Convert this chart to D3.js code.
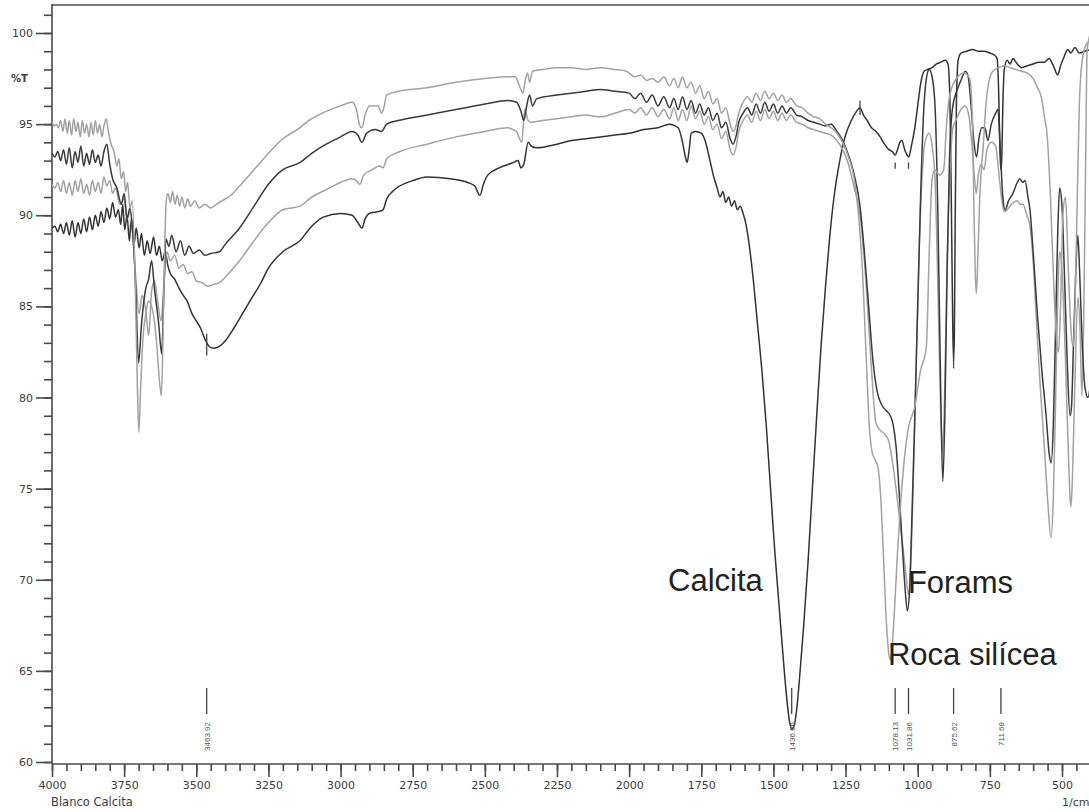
<!DOCTYPE html>
<html>
<head>
<meta charset="utf-8">
<script src="https://cdn.jsdelivr.net/npm/d3@7"></script>
<style>
body { margin: 0; background: #fff; }
text { font-family: "DejaVu Sans", Verdana, sans-serif; }
</style>
</head>
<body>
<div id="canvas"></div>
<script>
// wavenumber (1/cm), %T
const traceA = [[4000,95.1],[3992,94.9],[3985,95.0],[3978,94.8],[3970,95.2],[3962,94.6],[3955,95.3],[3947,94.5],[3940,95.2],[3932,94.4],[3925,95.3],[3917,94.6],[3910,95.1],[3902,94.3],[3895,95.2],[3887,94.5],[3880,95.0],[3872,94.3],[3865,95.1],[3857,94.4],[3850,95.2],[3842,94.5],[3835,95.0],[3827,94.3],[3820,94.9],[3812,95.3],[3805,94.6],[3795,93.9],[3785,93.5],[3775,92.7],[3768,93.1],[3760,92.0],[3752,92.4],[3745,91.3],[3738,91.8],[3730,90.4],[3722,90.8],[3712,86.5],[3704,80.5],[3699,78.1],[3693,80.5],[3685,83.2],[3675,84.6],[3665,85.3],[3655,85.0],[3645,84.2],[3635,82.5],[3627,80.8],[3621,80.1],[3615,83.5],[3609,88.5],[3604,90.8],[3598,91.2],[3590,90.7],[3582,91.3],[3574,90.6],[3566,91.1],[3558,90.5],[3550,91.0],[3540,90.4],[3530,90.9],[3520,90.5],[3505,90.8],[3490,90.4],[3470,90.6],[3450,90.4],[3430,90.6],[3410,90.8],[3380,91.1],[3350,91.6],[3300,92.5],[3250,93.4],[3200,94.2],[3150,94.7],[3100,95.3],[3050,95.7],[3000,96.0],[2960,96.2],[2945,95.8],[2933,94.9],[2926,94.8],[2915,95.5],[2900,96.0],[2870,96.0],[2858,95.6],[2850,95.9],[2840,96.6],[2800,96.8],[2700,97.0],[2600,97.3],[2500,97.5],[2420,97.6],[2395,97.6],[2385,97.3],[2375,96.9],[2368,96.7],[2360,97.4],[2352,97.8],[2345,97.3],[2335,97.9],[2300,98.0],[2250,98.1],[2200,98.1],[2150,98.0],[2100,98.1],[2050,98.0],[2010,97.9],[1980,97.6],[1960,97.7],[1940,97.4],[1920,97.5],[1900,97.3],[1880,97.6],[1860,97.1],[1845,97.5],[1830,97.0],[1815,97.6],[1800,97.0],[1785,97.3],[1770,96.7],[1755,97.1],[1740,96.4],[1725,96.8],[1710,96.1],[1695,96.4],[1680,95.6],[1665,95.9],[1650,95.0],[1640,94.6],[1630,94.9],[1620,95.6],[1605,96.2],[1590,96.5],[1575,96.2],[1560,96.7],[1545,96.3],[1530,96.8],[1515,96.4],[1500,96.7],[1485,96.3],[1470,96.6],[1455,96.2],[1440,96.4],[1420,96.0],[1400,95.9],[1380,95.6],[1360,95.4],[1340,95.3],[1320,95.0],[1300,94.8],[1280,94.5],[1260,94.0],[1240,93.2],[1220,92.0],[1205,90.0],[1190,86.5],[1178,82.0],[1168,78.5],[1158,77.0],[1148,76.6],[1138,76.2],[1128,74.5],[1118,71.0],[1108,67.5],[1100,65.9],[1095,65.6],[1090,66.0],[1080,68.5],[1070,71.5],[1060,74.0],[1050,76.0],[1040,77.5],[1030,78.5],[1020,79.0],[1010,79.5],[1000,80.5],[990,81.5],[980,82.0],[970,82.8],[960,88.0],[950,92.0],[940,92.5],[925,92.2],[910,92.5],[900,95.0],[890,96.5],[870,97.4],[840,97.8],[820,97.5],[810,95.0],[805,90.0],[800,86.5],[797,85.7],[793,87.0],[785,91.0],[779,92.6],[772,94.0],[765,95.8],[755,97.2],[740,97.9],[720,98.1],[700,98.2],[680,98.1],[660,98.0],[640,97.9],[620,97.8],[600,97.5],[585,97.0],[572,96.5],[560,95.3],[552,94.5],[540,91.0],[528,86.0],[518,83.0],[512,82.5],[505,85.0],[497,90.0],[488,91.0],[478,87.0],[468,83.5],[461,82.8],[455,85.0],[447,91.0],[440,96.0],[430,98.5],[415,99.4],[400,99.6]];

const traceB = [[4000,93.4],[3990,93.2],[3980,93.5],[3970,93.0],[3960,93.6],[3950,92.8],[3940,93.7],[3930,92.6],[3920,93.5],[3910,92.9],[3900,93.8],[3890,92.7],[3880,93.4],[3870,92.8],[3860,93.6],[3850,92.9],[3840,93.3],[3830,92.7],[3820,93.5],[3810,93.9],[3800,92.8],[3790,92.0],[3775,91.5],[3760,90.6],[3750,91.2],[3740,89.8],[3730,90.4],[3720,89.0],[3710,86.0],[3700,81.9],[3690,84.0],[3675,86.0],[3665,86.5],[3655,87.5],[3645,86.0],[3630,84.0],[3620,82.4],[3612,86.0],[3605,88.7],[3595,88.3],[3585,88.9],[3570,88.0],[3555,88.6],[3540,87.8],[3525,88.3],[3510,87.9],[3490,88.1],[3470,87.8],[3450,87.9],[3420,88.0],[3400,88.4],[3350,89.3],[3300,90.5],[3250,91.7],[3200,92.5],[3140,92.9],[3100,93.4],[3050,93.9],[3000,94.3],[2960,94.6],[2940,94.4],[2926,94.0],[2910,94.5],[2880,94.7],[2858,94.6],[2840,95.0],[2800,95.2],[2700,95.5],[2600,95.8],[2500,96.1],[2420,96.3],[2390,96.2],[2375,95.7],[2365,95.2],[2355,96.0],[2345,96.6],[2335,96.0],[2320,96.4],[2250,96.6],[2200,96.7],[2150,96.8],[2100,96.9],[2050,96.8],[2000,96.7],[1980,96.4],[1960,96.7],[1940,96.2],[1920,96.6],[1900,96.0],[1880,96.5],[1860,95.9],[1845,96.4],[1830,95.8],[1815,96.5],[1800,95.8],[1785,96.3],[1770,95.6],[1755,96.1],[1740,95.5],[1725,95.9],[1710,95.2],[1695,95.6],[1680,94.8],[1665,95.1],[1650,94.2],[1640,93.9],[1630,94.3],[1620,95.1],[1605,95.6],[1590,95.9],[1575,95.5],[1560,96.1],[1545,95.6],[1530,96.2],[1515,95.7],[1500,96.1],[1485,95.6],[1470,96.0],[1455,95.6],[1440,95.9],[1420,95.5],[1400,95.4],[1380,95.2],[1360,95.1],[1340,95.0],[1320,94.9],[1300,95.0],[1280,94.6],[1260,94.1],[1240,93.3],[1220,92.2],[1200,90.5],[1185,88.0],[1170,85.0],[1155,82.0],[1140,80.3],[1125,79.6],[1110,79.3],[1095,79.0],[1085,78.5],[1075,77.3],[1065,75.0],[1055,72.3],[1045,69.8],[1036,68.3],[1028,69.5],[1020,73.5],[1010,79.0],[1000,85.0],[990,91.0],[980,95.5],[970,97.5],[960,98.0],[950,97.6],[940,96.0],[930,90.0],[920,80.0],[913,75.4],[906,79.0],[898,87.0],[890,93.0],[880,95.8],[865,96.8],[850,97.4],[835,97.9],[825,97.6],[815,96.0],[805,94.0],[796,93.2],[788,94.2],[778,94.8],[767,94.8],[757,94.1],[745,95.0],[730,95.6],[722,95.8],[715,94.0],[705,91.0],[697,90.3],[685,90.8],[670,91.2],[655,91.8],[646,92.0],[636,91.8],[628,91.9],[618,91.0],[611,90.3],[600,88.0],[585,84.5],[570,81.5],[555,79.0],[545,77.0],[538,76.4],[530,78.5],[522,84.0],[514,89.5],[508,91.5],[500,90.5],[492,87.0],[482,82.0],[472,79.0],[467,79.5],[460,83.0],[452,87.0],[445,88.9],[438,86.5],[430,83.0],[420,80.5],[410,80.0],[400,81.0]];

const traceC = [[4000,91.7],[3990,91.5],[3980,91.8],[3970,91.3],[3960,91.9],[3950,91.2],[3940,91.8],[3930,91.1],[3920,91.9],[3910,91.3],[3900,92.0],[3890,91.2],[3880,91.7],[3870,91.1],[3860,91.9],[3850,91.3],[3840,91.8],[3830,91.2],[3820,92.1],[3810,91.6],[3800,91.9],[3790,91.2],[3780,91.5],[3765,90.6],[3750,90.9],[3740,89.8],[3730,90.2],[3718,88.6],[3708,86.2],[3698,84.6],[3688,85.6],[3676,84.9],[3665,83.4],[3655,85.8],[3645,86.4],[3635,85.4],[3622,84.2],[3612,86.3],[3602,88.0],[3590,87.5],[3575,87.8],[3560,87.1],[3545,87.3],[3530,86.8],[3515,86.9],[3500,86.4],[3480,86.3],[3460,86.1],[3442,86.2],[3420,86.3],[3400,86.6],[3350,87.5],[3300,88.6],[3250,89.6],[3200,90.3],[3140,90.5],[3100,91.0],[3050,91.4],[3000,91.8],[2960,92.0],[2945,91.9],[2933,91.7],[2920,92.2],[2890,92.5],[2865,92.7],[2853,92.6],[2840,93.1],[2794,93.5],[2700,93.9],[2600,94.3],[2500,94.6],[2420,94.8],[2403,94.7],[2390,94.6],[2380,94.2],[2372,94.0],[2362,95.8],[2350,95.2],[2340,95.1],[2300,95.2],[2250,95.3],[2200,95.4],[2150,95.5],[2100,95.4],[2050,95.6],[2000,95.8],[1980,95.6],[1960,95.9],[1940,95.5],[1920,95.9],[1900,95.4],[1880,95.8],[1860,95.3],[1845,95.9],[1830,95.2],[1815,95.8],[1800,95.2],[1785,96.0],[1770,95.3],[1755,95.7],[1740,95.0],[1725,95.4],[1710,94.7],[1695,95.0],[1680,94.2],[1665,94.6],[1650,93.6],[1640,93.3],[1630,93.7],[1620,94.6],[1605,95.2],[1590,95.5],[1575,95.1],[1560,95.7],[1545,95.2],[1530,95.8],[1515,95.3],[1500,95.7],[1485,95.2],[1470,95.6],[1455,95.2],[1440,95.5],[1420,95.1],[1400,95.0],[1380,94.8],[1360,94.7],[1340,94.6],[1320,94.5],[1300,94.4],[1280,94.1],[1260,93.6],[1240,92.8],[1220,91.5],[1200,90.0],[1180,86.5],[1160,81.5],[1145,78.6],[1130,78.2],[1115,78.0],[1100,77.6],[1088,76.5],[1075,75.0],[1062,73.2],[1050,71.6],[1040,70.2],[1032,69.2],[1025,70.5],[1015,75.5],[1005,82.0],[995,88.0],[985,92.0],[975,94.0],[960,94.5],[950,93.8],[940,92.0],[930,86.0],[920,79.0],[914,77.0],[907,80.0],[898,87.5],[888,92.5],[878,94.8],[865,95.3],[850,95.8],[835,96.0],[822,95.4],[812,93.8],[803,92.0],[797,91.2],[790,92.2],[780,92.8],[770,92.5],[760,93.6],[745,94.0],[730,93.8],[720,92.5],[710,91.0],[700,90.2],[690,90.3],[675,90.6],[656,90.8],[645,90.6],[635,90.6],[622,90.0],[611,89.4],[600,87.5],[588,84.0],[575,80.5],[560,77.0],[548,74.0],[538,72.3],[530,74.5],[522,80.0],[514,86.0],[508,88.0],[500,87.0],[490,83.0],[480,78.0],[472,74.5],[469,74.0],[464,75.5],[455,81.0],[445,85.5],[438,84.0],[431,80.1],[425,84.0],[418,93.0],[413,99.0],[405,99.8],[400,100.0]];

const traceD = [[4000,89.3],[3990,89.4],[3980,89.1],[3970,89.5],[3960,89.0],[3950,89.6],[3940,88.9],[3930,89.7],[3920,88.8],[3910,89.6],[3900,89.0],[3890,89.8],[3880,89.1],[3870,89.9],[3860,89.2],[3850,90.0],[3840,89.4],[3830,90.2],[3820,89.6],[3810,90.4],[3800,89.8],[3790,90.7],[3780,89.9],[3770,90.3],[3762,89.5],[3755,90.6],[3748,89.2],[3740,90.0],[3732,88.6],[3725,89.8],[3716,88.4],[3708,89.3],[3698,88.2],[3690,89.0],[3680,87.8],[3670,88.6],[3660,87.9],[3648,88.8],[3638,87.8],[3628,88.3],[3618,87.5],[3608,88.0],[3598,87.2],[3590,86.8],[3575,86.5],[3560,86.0],[3545,85.6],[3532,85.3],[3515,84.6],[3500,84.2],[3485,83.8],[3470,83.2],[3455,82.8],[3440,82.7],[3420,82.8],[3400,83.1],[3370,83.8],[3340,84.6],[3310,85.4],[3279,86.2],[3250,87.1],[3200,88.0],[3141,88.6],[3100,89.4],[3060,89.9],[3000,90.1],[2960,90.0],[2940,89.6],[2926,89.3],[2915,89.8],[2900,90.1],[2870,90.2],[2853,90.3],[2840,90.9],[2820,91.3],[2750,91.9],[2700,92.1],[2620,92.0],[2560,91.8],[2535,91.6],[2517,91.1],[2505,91.7],[2490,92.2],[2450,92.6],[2400,92.9],[2385,93.0],[2375,92.6],[2365,92.8],[2350,94.0],[2340,93.8],[2320,93.7],[2250,93.9],[2200,94.1],[2150,94.2],[2100,94.3],[2050,94.4],[2000,94.5],[1950,94.7],[1900,94.8],[1860,95.0],[1830,94.8],[1815,94.0],[1805,93.2],[1799,92.9],[1792,93.6],[1785,94.5],[1770,94.6],[1750,94.5],[1735,94.0],[1720,93.0],[1705,92.0],[1695,91.5],[1685,91.0],[1675,91.3],[1665,90.7],[1655,91.0],[1645,90.5],[1635,90.8],[1625,90.3],[1615,90.5],[1605,90.1],[1595,89.5],[1585,88.5],[1570,86.5],[1555,84.0],[1540,81.5],[1525,78.5],[1510,75.0],[1495,71.5],[1480,68.5],[1465,65.5],[1452,63.2],[1444,62.2],[1436,61.8],[1428,62.0],[1420,62.8],[1410,64.5],[1395,67.5],[1380,71.0],[1365,75.0],[1350,79.0],[1335,82.8],[1320,86.0],[1305,88.8],[1290,91.0],[1270,93.0],[1250,94.4],[1230,95.2],[1212,95.7],[1200,95.9],[1188,95.5],[1175,95.2],[1160,94.8],[1145,94.6],[1130,94.3],[1115,93.9],[1100,93.6],[1088,93.5],[1078,93.3],[1070,93.6],[1062,94.0],[1055,94.1],[1045,93.6],[1037,93.3],[1031,93.2],[1022,93.8],[1010,94.8],[1000,96.0],[990,97.2],[978,97.9],[965,98.0],[950,98.1],[935,98.3],[920,98.4],[905,98.5],[895,98.3],[888,96.0],[883,90.0],[879,84.5],[876,82.0],[873,83.5],[870,90.0],[866,96.0],[860,98.5],[850,98.9],[830,99.0],[810,99.1],[790,99.0],[770,99.0],[750,98.9],[735,98.8],[725,98.6],[719,96.5],[715,93.5],[712,92.5],[709,93.0],[705,96.0],[700,98.0],[690,98.5],[680,98.3],[670,98.6],[655,98.3],[640,98.1],[620,98.2],[600,98.3],[580,98.4],[560,98.4],[545,98.6],[530,98.2],[515,97.7],[505,98.2],[495,98.6],[480,99.1],[470,98.9],[455,99.2],[440,98.9],[420,99.0],[400,99.1]];

const yTickValues = [60, 65, 70, 75, 80, 85, 90, 95, 100];
const xTickValues = [4000, 3750, 3500, 3250, 3000, 2750, 2500, 2250, 2000, 1750, 1500, 1250, 1000, 750, 500];
const peakWavenumbers = [3463.92, 1436.66, 1078.13, 1031.86, 875.62, 711.68];
const peakLabels = ["3463.92", "1436.66", "1078.13", "1031.86", "875.62", "711.68"];
// small marks on the calcite trace: wavenumber, top %T, bottom %T
const traceMarks = [[3463.92, 83.5, 82.3], [1200, 96.3, 95.5], [1078.13, 92.9, 92.55], [1031.86, 92.9, 92.55], [875.62, 82.3, 81.6]];
const sampleNames = ["Calcita", "Forams", "Roca silícea"];

const width = 1089, height = 812;
const svg = d3.select("#canvas").append("svg")
    .attr("width", width)
    .attr("height", height);

const x = d3.scaleLinear().domain([4000, 400]).range([52, 52 + 3600 * 0.28857]);
const y = d3.scaleLinear().domain([60, 100]).range([762, 33]);
const axisY = 764;
const axisColor = "#4a4a4a", textColor = "#3c3c3c";

svg.append("clipPath").attr("id", "plot-clip")
  .append("rect").attr("x", 52).attr("y", 5).attr("width", width - 52).attr("height", axisY - 5);

// frame
svg.append("line").attr("x1", 52).attr("x2", width).attr("y1", 5).attr("y2", 5)
    .attr("stroke", "#7a7a7a").attr("stroke-width", 2.2);
svg.append("line").attr("x1", 52).attr("x2", 52).attr("y1", 4).attr("y2", axisY)
    .attr("stroke", axisColor).attr("stroke-width", 1.6);
svg.append("line").attr("x1", 52).attr("x2", width).attr("y1", axisY).attr("y2", axisY)
    .attr("stroke", axisColor).attr("stroke-width", 1.6);

// y axis
const yMinor = svg.append("g").attr("transform", "translate(52,0)")
    .call(d3.axisLeft(y).tickValues(d3.range(60, 102, 1)).tickSize(8).tickFormat(""));
const yMajor = svg.append("g").attr("transform", "translate(52,0)")
    .call(d3.axisLeft(y).tickValues(yTickValues).tickSize(16).tickPadding(3));
[yMinor, yMajor].forEach(g => {
  g.select(".domain").remove();
  g.selectAll("line").attr("stroke", axisColor).attr("stroke-width", 1.6);
  g.selectAll("text").attr("fill", textColor).style("font-size", "11px")
      .style("font-family", "DejaVu Sans, Verdana, sans-serif");
});
svg.append("text").attr("x", 11).attr("y", 82).text("%T")
    .attr("fill", textColor).style("font-size", "10px").style("font-weight", "bold");

// x axis
const xMinor = svg.append("g").attr("transform", `translate(0,${axisY})`)
    .call(d3.axisBottom(x).tickValues(d3.range(450, 4001, 50)).tickSize(7).tickFormat(""));
const xMajor = svg.append("g").attr("transform", `translate(0,${axisY})`)
    .call(d3.axisBottom(x).tickValues(xTickValues).tickSize(13).tickPadding(4).tickFormat(d3.format("d")));
[xMinor, xMajor].forEach(g => {
  g.select(".domain").remove();
  g.selectAll("line").attr("stroke", axisColor).attr("stroke-width", 1.6);
  g.selectAll("text").attr("fill", textColor).style("font-size", "11px")
      .style("font-family", "DejaVu Sans, Verdana, sans-serif");
});
svg.append("text").attr("x", 51).attr("y", 806).text("Blanco Calcita")
    .attr("fill", textColor).style("font-size", "11.5px");
svg.append("text").attr("x", 1062).attr("y", 806).text("1/cm")
    .attr("fill", textColor).style("font-size", "11px");

// traces
const line = d3.line().x(d => x(d[0])).y(d => y(d[1])).curve(d3.curveMonotoneX);
const plot = svg.append("g").attr("clip-path", "url(#plot-clip)");
const traces = [
  { data: traceD, color: "#333" },
  { data: traceC, color: "#a2a2a2" },
  { data: traceB, color: "#3a3a3a" },
  { data: traceA, color: "#a2a2a2" }
];
plot.selectAll("path.trace").data(traces).enter().append("path")
    .attr("class", "trace")
    .attr("d", d => line(d.data))
    .attr("fill", "none")
    .attr("stroke", d => d.color)
    .attr("stroke-width", 1.5)
    .attr("stroke-linejoin", "round");

plot.selectAll("line.mark").data(traceMarks).enter().append("line")
    .attr("class", "mark")
    .attr("x1", d => x(d[0])).attr("x2", d => x(d[0]))
    .attr("y1", d => y(d[1])).attr("y2", d => y(d[2]))
    .attr("stroke", "#444").attr("stroke-width", 1.3);

// peak markers
const peaks = svg.append("g");
peakWavenumbers.forEach((p, i) => {
  peaks.append("line").attr("x1", x(p)).attr("x2", x(p)).attr("y1", 688).attr("y2", 714)
      .attr("stroke", "#444").attr("stroke-width", 1.3);
  peaks.append("text")
      .attr("transform", `translate(${x(p) + 3},722) rotate(-90)`)
      .attr("text-anchor", "end")
      .attr("fill", "#555")
      .style("font-family", "Liberation Sans, Arial, sans-serif")
      .style("font-size", "8px")
      .text(peakLabels[i]);
});

// sample names
const namePos = [[1865, 69.4], [1034, 69.3], [1103, 65.3]];
sampleNames.forEach((n, i) => {
  svg.append("text").attr("x", x(namePos[i][0])).attr("y", y(namePos[i][1]))
      .attr("fill", "#222")
      .style("font-family", "Liberation Sans, Arial, sans-serif")
      .style("font-size", "31px").text(n);
});
</script>
</body>
</html>
